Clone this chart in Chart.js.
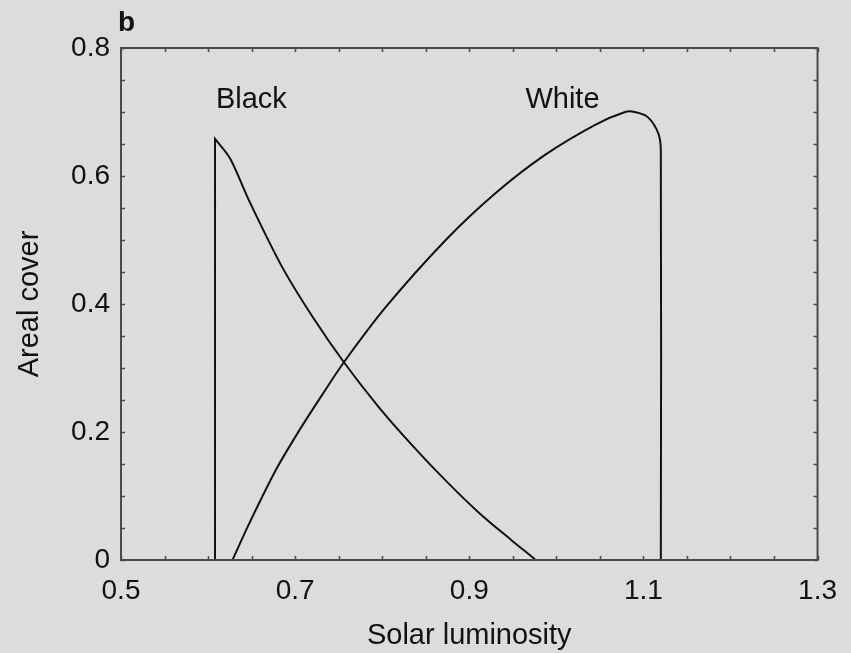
<!DOCTYPE html>
<html>
<head>
<meta charset="utf-8">
<title>Areal cover vs solar luminosity</title>
<script src="https://cdn.jsdelivr.net/npm/chart.js@4/dist/chart.umd.min.js"></script>
<style>
  html, body { margin: 0; padding: 0; background: #dcdcdc; }
  #wrap { position: relative; width: 851px; height: 653px; }
</style>
</head>
<body>
<div id="wrap"><canvas id="coverChart"></canvas></div>
<script>
// Daisy cover curves (luminosity, fractional area).
// A corner point is listed twice so the drop line next to it stays straight under spline tension.
const blackLum = [0.608, 0.608, 0.608, 0.625, 0.648, 0.685, 0.72, 0.756, 0.796, 0.834, 0.873, 0.911, 0.9485, 0.9737, 0.976];
const blackCover = [0, 0.658, 0.658, 0.628, 0.559, 0.458, 0.380, 0.309, 0.239, 0.180, 0.124, 0.074, 0.031, 0.003, 0];

const whiteLum = [0.628, 0.6476, 0.678, 0.705, 0.731, 0.756, 0.804, 0.873, 0.930, 0.987, 1.0446, 1.079, 1.090, 1.105, 1.117, 1.12, 1.12];
const whiteCover = [0, 0.058, 0.141, 0.203, 0.258, 0.309, 0.395, 0.500, 0.573, 0.633, 0.680, 0.700, 0.700, 0.692, 0.667, 0.64, 0];

const xTicks = [0.5, 0.7, 0.9, 1.1, 1.3];
const yTicks = [0, 0.2, 0.4, 0.6, 0.8];

const curveLabels = [
    { text: 'Black', x: 0.609, y: 0.719 },
    { text: 'White', x: 0.9645, y: 0.719 }
];

const FONT = '"Liberation Sans", Arial, Helvetica, sans-serif';

function toPoints(xs, ys) {
    return xs.map((x, i) => ({ x: x, y: ys[i] }));
}

// Frame with small inward ticks on all four sides, plus panel letter and curve names
const framePlugin = {
    id: 'frame',
    afterDatasetsDraw(chart) {
        const ctx = chart.ctx;
        const area = chart.chartArea;
        const xs = chart.scales.x;
        const ys = chart.scales.y;

        ctx.save();
        ctx.strokeStyle = '#4a4a4a';
        ctx.lineWidth = 2;
        ctx.strokeRect(area.left, area.top, area.right - area.left, area.bottom - area.top);

        ctx.lineWidth = 1.5;
        ctx.beginPath();
        for (let v = xs.min; v <= xs.max + 1e-9; v += 0.05) {
            const px = Math.round(xs.getPixelForValue(v)) + 0.5;
            ctx.moveTo(px, area.bottom);
            ctx.lineTo(px, area.bottom - 4);
            ctx.moveTo(px, area.top);
            ctx.lineTo(px, area.top + 4);
        }
        for (let v = ys.min; v <= ys.max + 1e-9; v += 0.05) {
            const py = Math.round(ys.getPixelForValue(v)) + 0.5;
            ctx.moveTo(area.left, py);
            ctx.lineTo(area.left + 4, py);
            ctx.moveTo(area.right, py);
            ctx.lineTo(area.right - 4, py);
        }
        ctx.stroke();

        ctx.fillStyle = '#111';
        ctx.font = '29px ' + FONT;
        ctx.textBaseline = 'middle';
        ctx.textAlign = 'left';
        curveLabels.forEach(l => {
            ctx.fillText(l.text, xs.getPixelForValue(l.x), ys.getPixelForValue(l.y));
        });

        ctx.font = 'bold 28px ' + FONT;
        ctx.textBaseline = 'alphabetic';
        ctx.fillText('b', area.left - 3, 31);
        ctx.restore();
    }
};

const lineStyle = {
    showLine: true,
    borderColor: '#111',
    borderWidth: 2,
    pointRadius: 0,
    tension: 0.3,
    fill: false
};

new Chart(document.getElementById('coverChart'), {
    type: 'scatter',
    data: {
        datasets: [
            Object.assign({ label: 'Black', data: toPoints(blackLum, blackCover) }, lineStyle),
            Object.assign({ label: 'White', data: toPoints(whiteLum, whiteCover) }, lineStyle)
        ]
    },
    options: {
        responsive: true,
        maintainAspectRatio: false,
        animation: false,
        layout: { padding: { left: 0, right: 31, top: 48, bottom: 0 } },
        plugins: {
            legend: { display: false },
            tooltip: { enabled: false }
        },
        scales: {
            x: {
                type: 'linear',
                min: xTicks[0],
                max: xTicks[xTicks.length - 1],
                afterFit: scale => { scale.height = 93; },
                afterBuildTicks: scale => { scale.ticks = xTicks.map(v => ({ value: v })); },
                grid: { display: false, drawTicks: false },
                border: { display: false },
                ticks: {
                    padding: 14,
                    color: '#111',
                    font: { family: FONT, size: 28 },
                    callback: v => v.toFixed(1)
                },
                title: {
                    display: true,
                    text: 'Solar luminosity',
                    color: '#111',
                    font: { family: FONT, size: 29 },
                    padding: { top: 0, bottom: 0 }
                }
            },
            y: {
                type: 'linear',
                min: yTicks[0],
                max: yTicks[yTicks.length - 1],
                afterFit: scale => { scale.width = 121; },
                afterBuildTicks: scale => { scale.ticks = yTicks.map(v => ({ value: v })); },
                grid: { display: false, drawTicks: false },
                border: { display: false },
                ticks: {
                    padding: 11,
                    color: '#111',
                    font: { family: FONT, size: 28 },
                    callback: v => (v === 0 ? '0' : v.toFixed(1))
                },
                title: {
                    display: true,
                    text: 'Areal cover',
                    color: '#111',
                    font: { family: FONT, size: 29 },
                    padding: { top: 13, bottom: 0 }
                }
            }
        }
    },
    plugins: [framePlugin]
});
</script>
</body>
</html>
